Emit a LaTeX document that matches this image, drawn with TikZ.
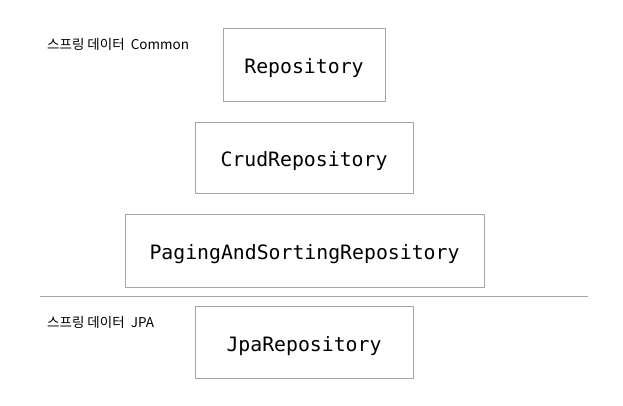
\documentclass[tikz,border=0pt]{standalone}
\usepackage{fontspec}
\usepackage{xcolor}
\usepackage{tikz}
\newfontfamily\korfont{Noto Sans CJK KR}
\setmonofont{DejaVu Sans Mono}

\begin{document}
\begin{tikzpicture}[x=1pt, y=-1pt,
	repobox/.style={draw=gray!70, line width=0.9pt, inner sep=0pt, text height=18pt, text depth=0pt, font=\ttfamily\fontsize{19.8}{22}\selectfont},
	grouplabel/.style={anchor=west, inner sep=0pt, font=\korfont\fontsize{13.5}{15}\selectfont}]
	
	% Canvas
	\useasboundingbox (0,0) rectangle (623,405);
	
	% Common
	\node[grouplabel] (common) at (47, 44) {스프링 데이터\ \ Common};
	\node[repobox, minimum width=162pt, minimum height=73pt] (repo) at (304, 64.5) {Repository};
	\node[repobox, minimum width=218pt, minimum height=71pt] (crud) at (304, 157.5) {CrudRepository};
	\node[repobox, minimum width=359pt, minimum height=73pt] (paging) at (304.5, 250.5) {PagingAndSortingRepository};
	
	% Separator
	\coordinate (sepL) at (40, 296);
	\coordinate (sepR) at (588, 296);
	\draw[gray!70, line width=0.9pt] (sepL) -- (sepR);
	
	% JPA
	\node[grouplabel] (jpa) at (47, 322) {스프링 데이터\ \ JPA};
	\node[repobox, minimum width=218pt, minimum height=72pt] (jparepo) at (304, 342) {JpaRepository};
	
\end{tikzpicture}
\end{document}
